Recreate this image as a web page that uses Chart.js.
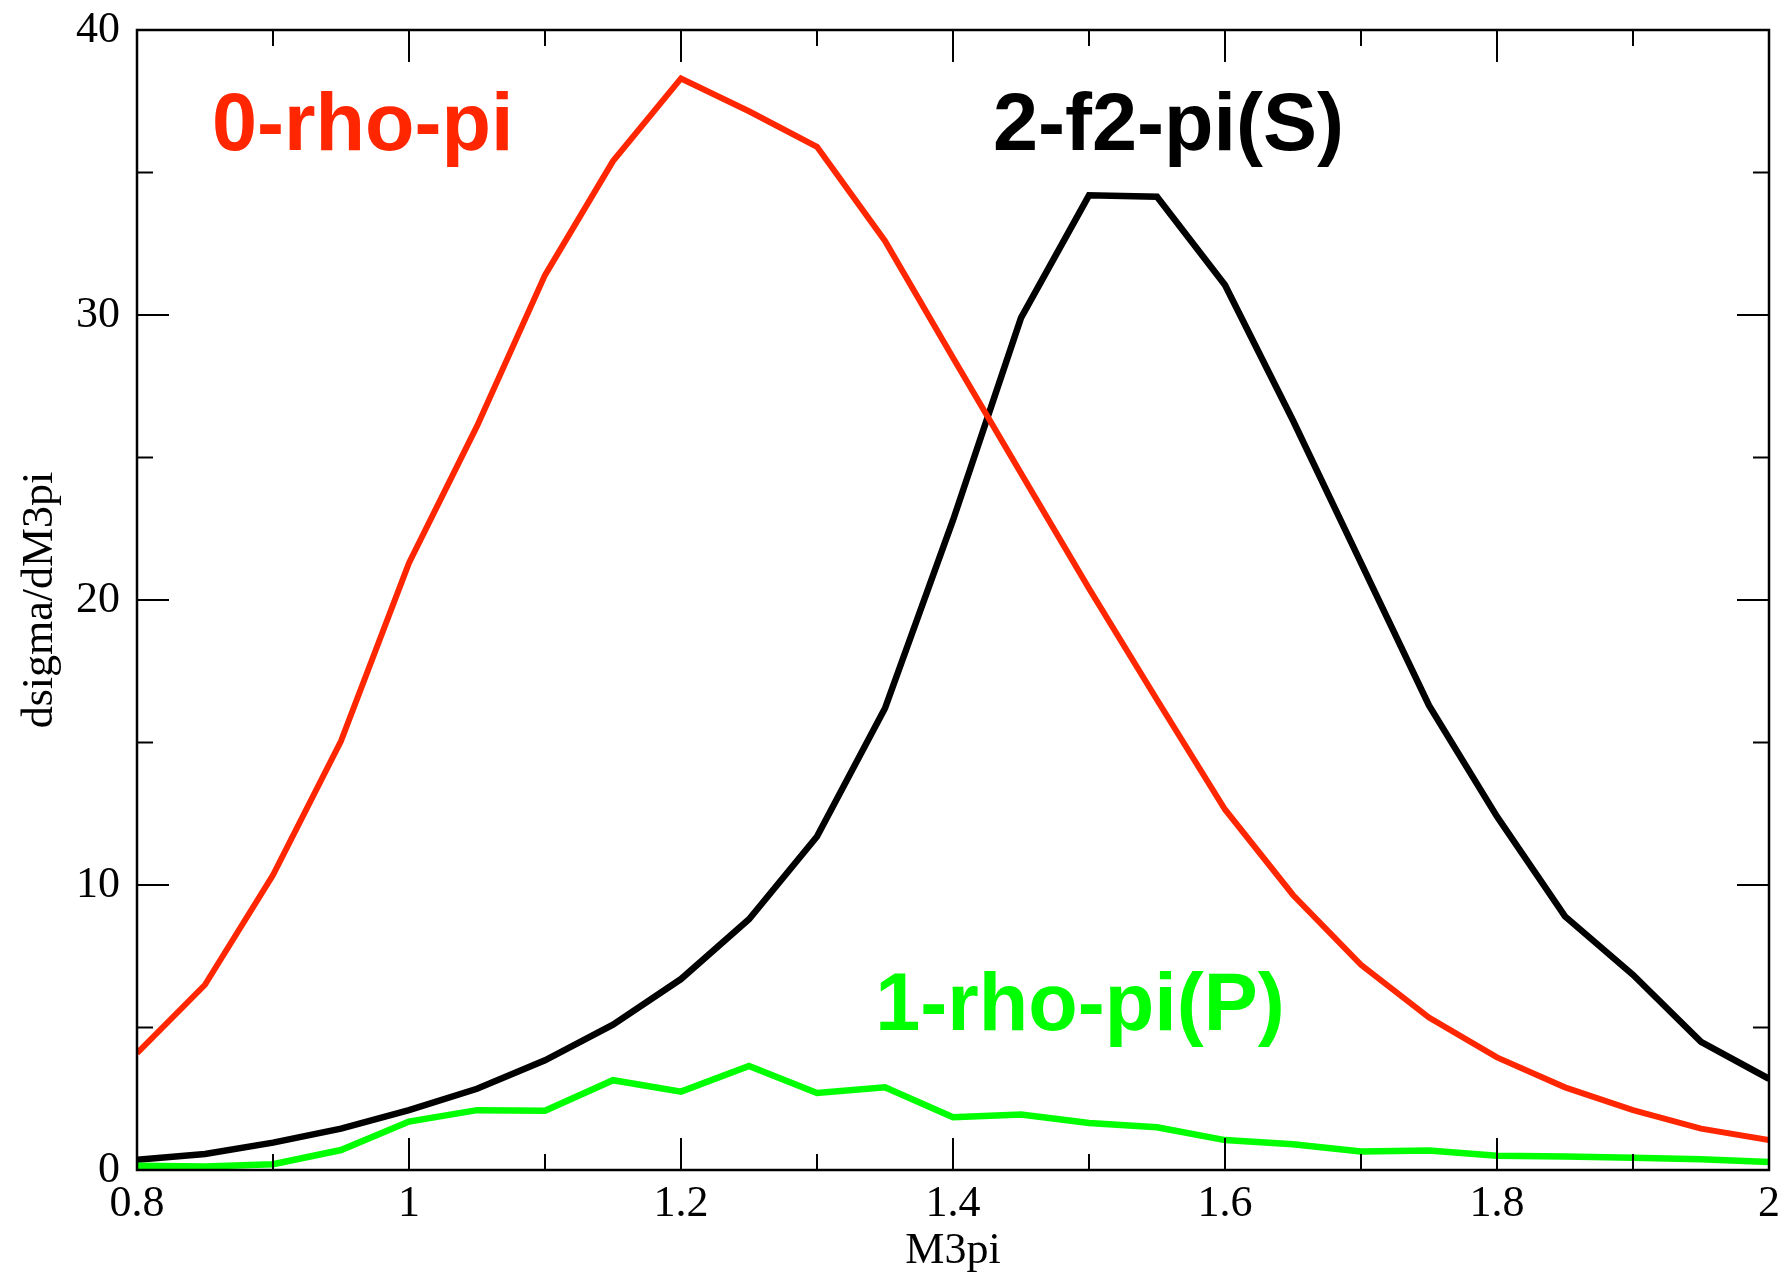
<!DOCTYPE html>
<html>
<head>
<meta charset="utf-8">
<title>dsigma/dM3pi</title>
<script src="https://cdn.jsdelivr.net/npm/chart.js@4.4.1/dist/chart.umd.min.js"></script>
<style>
  html, body { margin: 0; padding: 0; background: #fff; }
  canvas { display: block; }
</style>
</head>
<body>
<canvas id="waveChart" width="1787" height="1278"></canvas>
<script>
// M3pi bins
const m3pi = [0.8, 0.85, 0.9, 0.95, 1.0, 1.05, 1.1, 1.15, 1.2, 1.25, 1.3, 1.35, 1.4,
              1.45, 1.5, 1.55, 1.6, 1.65, 1.7, 1.75, 1.8, 1.85, 1.9, 1.95, 2.0];

// 0-rho-pi
const rhoPi0 = [4.1, 6.5, 10.35, 15.05, 21.3, 26.1, 31.4, 35.4, 38.3, 37.15, 35.9, 32.6, 28.5,
                24.45, 20.4, 16.5, 12.65, 9.65, 7.2, 5.35, 3.95, 2.9, 2.1, 1.45, 1.05];
// 2-f2-pi(S)
const f2PiS = [0.36, 0.56, 0.96, 1.45, 2.1, 2.85, 3.85, 5.1, 6.7, 8.8, 11.7, 16.2, 22.8,
               29.9, 34.2, 34.15, 31.05, 26.3, 21.3, 16.3, 12.4, 8.9, 6.85, 4.5, 3.2];
// 1-rho-pi(P)
const rhoPiP = [0.15, 0.12, 0.2, 0.7, 1.7, 2.1, 2.08, 3.15, 2.75, 3.65, 2.7, 2.9, 1.85,
                1.95, 1.65, 1.5, 1.05, 0.9, 0.65, 0.68, 0.5, 0.47, 0.43, 0.38, 0.28];

// axis ticks
const xTicks = [0.8, 1.0, 1.2, 1.4, 1.6, 1.8, 2.0];
const xMinor = [0.9, 1.1, 1.3, 1.5, 1.7, 1.9];
const yTicks = [0, 10, 20, 30, 40];
const yMinor = [5, 15, 25, 35];

// in-plot labels (data coordinates)
const labels = [
  { text: '0-rho-pi',    color: '#ff2600', x: 0.966,  y: 35.8 },
  { text: '2-f2-pi(S)',  color: '#000000', x: 1.5585, y: 35.8 },
  { text: '1-rho-pi(P)', color: '#00ff00', x: 1.4934, y: 4.9 }
];

const toPoints = ys => ys.map((y, i) => ({ x: m3pi[i], y: y }));

// frame + inward ticks on all four sides
const frameTicks = {
  id: 'frameTicks',
  afterDatasetsDraw(chart) {
    const { ctx, chartArea: a, scales: { x, y } } = chart;
    ctx.save();
    ctx.strokeStyle = '#000';
    ctx.lineWidth = 2;
    const tick = (x1, y1, x2, y2) => {
      ctx.beginPath(); ctx.moveTo(x1, y1); ctx.lineTo(x2, y2); ctx.stroke();
    };
    xTicks.forEach(v => { const p = x.getPixelForValue(v); tick(p, a.bottom, p, a.bottom - 32); tick(p, a.top, p, a.top + 32); });
    xMinor.forEach(v => { const p = x.getPixelForValue(v); tick(p, a.bottom, p, a.bottom - 16); tick(p, a.top, p, a.top + 16); });
    yTicks.forEach(v => { const p = y.getPixelForValue(v); tick(a.left, p, a.left + 32, p); tick(a.right, p, a.right - 32, p); });
    yMinor.forEach(v => { const p = y.getPixelForValue(v); tick(a.left, p, a.left + 16, p); tick(a.right, p, a.right - 16, p); });
    ctx.lineWidth = 2.5;
    ctx.strokeRect(a.left, a.top, a.right - a.left, a.bottom - a.top);

    ctx.font = 'bold 81px "Liberation Sans", Arial, sans-serif';
    ctx.textAlign = 'center';
    ctx.textBaseline = 'alphabetic';
    labels.forEach(l => {
      ctx.fillStyle = l.color;
      ctx.fillText(l.text, x.getPixelForValue(l.x), y.getPixelForValue(l.y));
    });
    ctx.restore();
  }
};

const serif = { family: '"Liberation Serif", "Times New Roman", serif', size: 44 };

new Chart(document.getElementById('waveChart'), {
  type: 'line',
  data: {
    datasets: [
      { label: '1-rho-pi(P)', data: toPoints(rhoPiP), borderColor: '#00ff00', borderWidth: 6.5 },
      { label: '0-rho-pi',    data: toPoints(rhoPi0), borderColor: '#ff2600', borderWidth: 6 },
      { label: '2-f2-pi(S)',  data: toPoints(f2PiS),  borderColor: '#000000', borderWidth: 6.5 }
    ]
  },
  options: {
    responsive: false,
    devicePixelRatio: 1,
    animation: false,
    layout: { padding: { top: 30, right: 18, left: 0, bottom: 0 } },
    elements: { point: { radius: 0 }, line: { tension: 0, fill: false } },
    plugins: { legend: { display: false }, tooltip: { enabled: false } },
    scales: {
      x: {
        type: 'linear',
        min: 0.8, max: 2,
        grid: { display: false, drawTicks: false },
        border: { display: false },
        afterBuildTicks: s => { s.ticks = xTicks.map(v => ({ value: v })); },
        afterFit: s => { s.height = 108; s.paddingLeft = 0; s.paddingRight = 0; },
        ticks: { color: '#000', font: serif, padding: 8, maxRotation: 0,
                 callback: v => String(+Number(v).toFixed(2)) },
        title: { display: true, text: 'M3pi', color: '#000', font: serif, padding: { top: 0, bottom: 0 } }
      },
      y: {
        type: 'linear',
        min: 0, max: 40,
        grid: { display: false, drawTicks: false },
        border: { display: false },
        afterBuildTicks: s => { s.ticks = yTicks.map(v => ({ value: v })); },
        afterFit: s => { s.width = 137; s.paddingTop = 0; s.paddingBottom = 0; },
        ticks: { color: '#000', font: serif, padding: 17 },
        title: { display: true, text: 'dsigma/dM3pi', color: '#000', font: serif, padding: { top: 14, bottom: 0 } }
      }
    }
  },
  plugins: [frameTicks]
});
</script>
</body>
</html>
